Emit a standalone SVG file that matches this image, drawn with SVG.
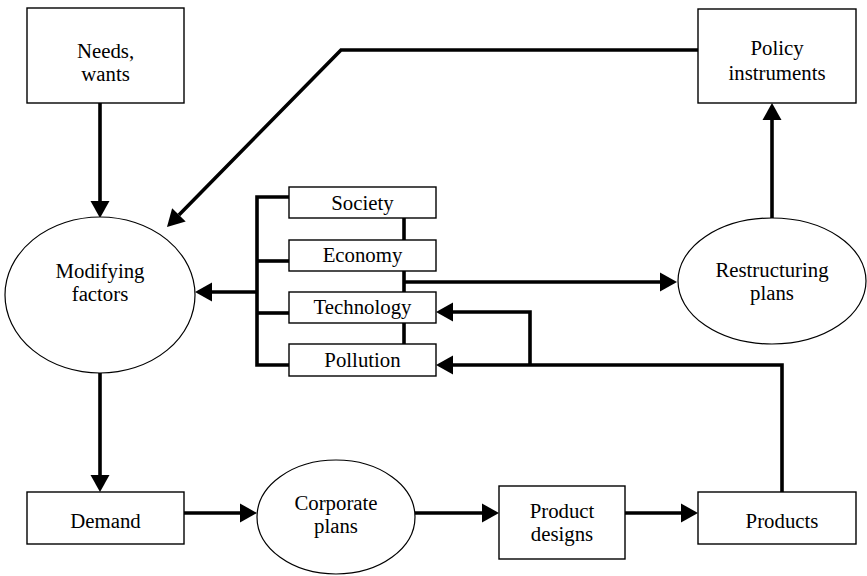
<svg xmlns="http://www.w3.org/2000/svg" width="867" height="576" viewBox="0 0 867 576">
  <style>
    .box { fill: #fff; stroke: #000; stroke-width: 1.4; }
    .oval { fill: #fff; stroke: #000; stroke-width: 1.2; }
    text { font-family: 'Liberation Serif', 'DejaVu Serif', serif; font-size: 20.8px; fill: #000; text-anchor: middle; }
    .wire { fill: none; stroke: #000; stroke-width: 3.6; stroke-linejoin: miter; }
    .arrow { fill: none; stroke: #000; stroke-width: 3.6; marker-end: url(#head); }
  </style>
  <defs>
    <marker id="head" markerUnits="userSpaceOnUse" markerWidth="18" markerHeight="19" refX="0" refY="9.5" orient="auto" overflow="visible">
      <path d="M0,0 L17,9.5 L0,19 Z" fill="#000"/>
    </marker>
  </defs>
  <rect width="867" height="576" fill="#fff"/>

  <g id="connectors">
    <!-- bracket joining the four factor boxes -->
    <path class="wire" d="M289,197 H257 V365 H289"/>
    <path class="wire" d="M257,261 H289"/>
    <path class="wire" d="M257,313 H289"/>
    <path class="wire" d="M404,218 V240"/>
    <path class="wire" d="M404,271 V292"/>
    <path class="wire" d="M404,323 V344"/>

    <path class="arrow" d="M100,103 V201"/>
    <path class="arrow" d="M698,50 H341 L178.9,214.9"/>
    <path class="arrow" d="M257,292 H212"/>
    <path class="arrow" d="M404,282 H660"/>
    <path class="arrow" d="M772,218 V120"/>
    <path class="arrow" d="M782,492 V365 H453"/>
    <path class="arrow" d="M530,365 V312 H453"/>
    <path class="arrow" d="M100,373 V475"/>
    <path class="arrow" d="M184,513 H240"/>
    <path class="arrow" d="M415,513 H482"/>
    <path class="arrow" d="M625,513 H681"/>
  </g>

  <g id="needs">
    <rect class="box" x="27" y="8" width="157" height="95"/>
    <text x="105.5" y="58">Needs,</text>
    <text x="105.5" y="81">wants</text>
  </g>

  <g id="policy">
    <rect class="box" x="698" y="9" width="158" height="94"/>
    <text x="777" y="55">Policy</text>
    <text x="777" y="80">instruments</text>
  </g>

  <g id="modifying">
    <ellipse class="oval" cx="100" cy="295" rx="95" ry="78"/>
    <text x="100" y="278">Modifying</text>
    <text x="100" y="301">factors</text>
  </g>

  <g id="restructuring">
    <ellipse class="oval" cx="772" cy="281" rx="94" ry="63"/>
    <text x="772" y="277">Restructuring</text>
    <text x="772" y="300">plans</text>
  </g>

  <g id="society">
    <rect class="box" x="289" y="187" width="147" height="31"/>
    <text x="362.5" y="210">Society</text>
  </g>
  <g id="economy">
    <rect class="box" x="289" y="240" width="147" height="31"/>
    <text x="362.5" y="262">Economy</text>
  </g>
  <g id="technology">
    <rect class="box" x="289" y="292" width="147" height="31"/>
    <text x="362.5" y="314">Technology</text>
  </g>
  <g id="pollution">
    <rect class="box" x="289" y="344" width="147" height="32"/>
    <text x="362.5" y="367">Pollution</text>
  </g>

  <g id="demand">
    <rect class="box" x="27" y="492" width="157" height="52"/>
    <text x="105.5" y="528">Demand</text>
  </g>

  <g id="corporate">
    <ellipse class="oval" cx="336" cy="517" rx="79" ry="57"/>
    <text x="336" y="510">Corporate</text>
    <text x="336" y="533">plans</text>
  </g>

  <g id="designs">
    <rect class="box" x="499" y="486" width="126" height="73"/>
    <text x="562" y="518">Product</text>
    <text x="562" y="541">designs</text>
  </g>

  <g id="products">
    <rect class="box" x="698" y="492" width="158" height="52"/>
    <text x="782" y="528">Products</text>
  </g>
</svg>
